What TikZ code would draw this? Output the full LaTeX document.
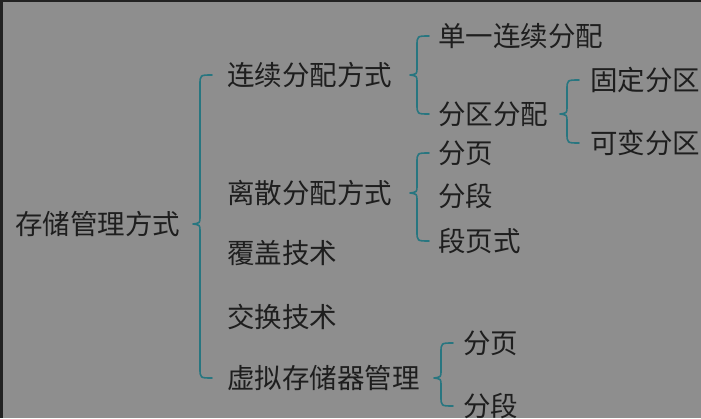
\documentclass[tikz,border=0pt]{standalone}
\usepackage{fontspec}
\newfontfamily\cjk{Noto Sans CJK SC}
\usetikzlibrary{calc}
\definecolor{bgcol}{RGB}{142,142,142}
\definecolor{framecol}{RGB}{34,34,34}
\definecolor{txtcol}{RGB}{30,30,30}
\definecolor{bracecol}{RGB}{40,118,128}
\tikzset{
  leaf/.style = {anchor=west, inner sep=0pt, outer sep=0pt, text=txtcol,
                 font=\cjk\fontsize{27.5pt}{30pt}\selectfont},
  brace/.style = {draw=bracecol, line width=1.6pt, line cap=round, line join=round}
}
% brace from top child #1 to bottom child #2, tip at parent #3, line #4 left of children
\newcommand\brc[4]{%
  \draw[brace] let \p1=(#1.west), \p2=(#2.west), \p3=(#3.east), \n1={\x1-#4} in
    (\n1+12pt,\y1) .. controls (\n1,\y1) .. (\n1,\y1-10pt)
    -- (\n1,\y3+7pt) .. controls (\n1,\y3+1pt) .. (\n1-7pt,\y3)
    .. controls (\n1,\y3-1pt) .. (\n1,\y3-7pt)
    -- (\n1,\y2+10pt) .. controls (\n1,\y2) .. (\n1+12pt,\y2);}

\begin{document}
\begin{tikzpicture}[x=1pt,y=-1pt]
	% Background
	\fill[framecol] (0,0) rectangle (701,418);
	\fill[bgcol] (3,2) rectangle (701,418);
	
	% Root
	\node[leaf] (root) at (15,224) {存储管理方式};
	
	% Level 1
	\node[leaf] (lxu)  at (227,75)  {连续分配方式};
	\node[leaf] (lisan) at (227,193) {离散分配方式};
	\node[leaf] (fugai) at (227,253) {覆盖技术};
	\node[leaf] (jiaohuan) at (227,317) {交换技术};
	\node[leaf] (xuni) at (227,378) {虚拟存储器管理};
	
	% Level 2
	\node[leaf] (danyi) at (438,36)  {单一连续分配};
	\node[leaf] (fenqu) at (438,114) {分区分配};
	\node[leaf] (guding) at (590,80)  {固定分区};
	\node[leaf] (kebian) at (590,143) {可变分区};
	\node[leaf] (fenye) at (438,153) {分页};
	\node[leaf] (fenduan) at (438,196) {分段};
	\node[leaf] (duanye) at (438,241) {段页式};
	\node[leaf] (xfenye) at (463,343) {分页};
	\node[leaf] (xfenduan) at (463,406) {分段};
	
	% Braces
	\brc{lxu}{xuni}{root}{27pt}
	\brc{danyi}{fenqu}{lxu}{21pt}
	\brc{guding}{kebian}{fenqu}{23pt}
	\brc{fenye}{duanye}{lisan}{21pt}
	\brc{xfenye}{xfenduan}{xuni}{22pt}
	
\end{tikzpicture}
\end{document}
